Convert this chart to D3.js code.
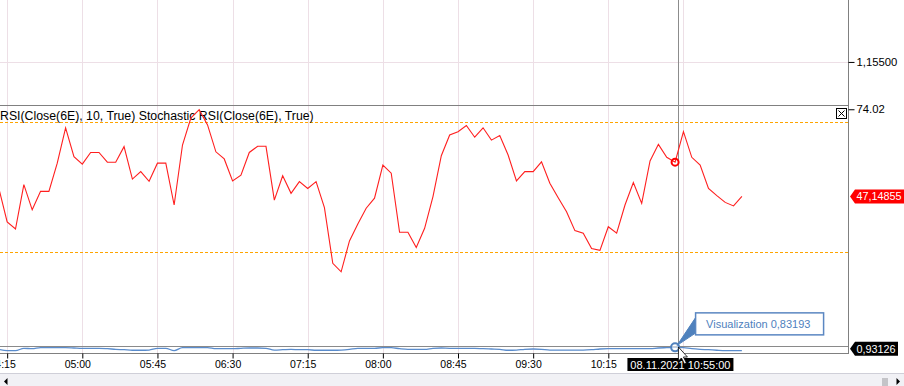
<!DOCTYPE html>
<html>
<head>
<meta charset="utf-8">
<script src="https://cdn.jsdelivr.net/npm/d3@7"></script>
<style>
  body { margin: 0; background: #fff; }
  svg { display: block; font-family: "Liberation Sans", Arial, sans-serif; }
</style>
</head>
<body>
<div id="plot"></div>
<script>
// bars are 5 minutes apart, first one at 04:10
const firstBar = "2021-11-08 04:10";
const barMinutes = 5;

// Stochastic RSI values, one per bar
const rsiValues = [
  49.7, 39.3, 37.1, 50.8, 43.0, 48.7, 48.7, 57.4, 68.3, 59.4,
  57.1, 60.7, 60.7, 57.7, 57.7, 62.5, 52.5, 54.8, 51.8, 57.4,
  57.4, 44.5, 63.0, 71.3, 73.9, 69.2, 60.9, 58.7, 51.9, 53.7,
  60.7, 62.6, 62.6, 46.0, 53.5, 48.1, 51.7, 49.6, 51.7, 43.7,
  26.5, 23.9, 33.4, 38.6, 43.5, 46.6, 56.8, 54.3, 36.1, 36.1,
  31.4, 37.3, 47.1, 59.7, 66.1, 67.1, 69.0, 65.4, 68.3, 64.5,
  65.9, 59.9, 51.9, 54.8, 54.8, 57.8, 51.2, 46.7, 42.4, 36.6,
  35.8, 31.1, 30.5, 37.8, 35.8, 44.5, 51.4, 45.0, 58.1, 63.2,
  59.2, 57.7, 67.1, 59.2, 56.8, 49.6, 47.4, 45.3, 44.2, 47.14855
];

// "Visualization" series in the bottom strip
const visValues = [
  0.74, 0.57, 0.57, 0.87, 0.82, 0.95, 0.95, 0.95, 0.95, 0.91,
  0.87, 0.87, 0.87, 0.82, 0.74, 0.69, 0.62, 0.62, 0.65, 0.87,
  0.87, 0.57, 0.95, 0.95, 0.95, 0.95, 0.82, 0.82, 0.82, 0.87,
  0.91, 0.91, 0.87, 0.65, 0.69, 0.74, 0.69, 0.69, 0.62, 0.62,
  0.62, 0.65, 0.74, 0.87, 0.87, 0.87, 0.95, 0.95, 0.82, 0.74,
  0.74, 0.74, 0.87, 0.91, 0.87, 0.87, 0.87, 0.87, 0.82, 0.78,
  0.74, 0.62, 0.65, 0.74, 0.78, 0.74, 0.65, 0.65, 0.65, 0.65,
  0.65, 0.69, 0.78, 0.82, 0.82, 0.82, 0.82, 0.82, 0.82, 0.91,
  0.95, 0.99, 0.95, 0.82, 0.74, 0.69, 0.62, 0.57, 0.57, 0.57
];

// axis ticks
const timeTicks = ["04:15", "05:00", "05:45", "06:30", "07:15", "08:00", "08:45", "09:30", "10:15"];
const gridTimes = ["04:15", "05:00", "05:45", "06:30", "07:15", "08:00", "08:45", "09:30", "10:15", "11:00"];
const priceTicks = [1.155];
const rsiTicks = [74.02];
const rsiLevels = [70, 30];

// cursor / labels
const legendText = "RSI(Close(6E), 10, True) Stochastic RSI(Close(6E), True)";
const cursorBar = "2021-11-08 10:55";
const mouseTime = "2021-11-08 10:57";
const cursorLabel = "08.11.2021 10:55:00";
const calloutText = "Visualization 0,83193";
const lastRsi = 47.14855;
const lastVis = 0.93126;

const svgWidth = 904;
const svgHeight = 386;
const plotRight = 848;
const axisY = 353;

const parse = d3.timeParse("%Y-%m-%d %H:%M");
const day = "2021-11-08 ";
const t0 = parse(firstBar);
const barTime = i => d3.timeMinute.offset(t0, i * barMinutes);

const rsiData = rsiValues.map((v, i) => ({ t: barTime(i), v: v }));
const visData = visValues.map((v, i) => ({ t: barTime(i), v: v }));

const comma = d3.formatLocale({ decimal: ",", thousands: ".", grouping: [3], currency: ["", ""] });

// scales
const xScale = d3.scaleTime()
  .domain([parse(day + "05:00"), parse(day + "10:15")])
  .range([82.3, 608.3]);
const priceScale = d3.scaleLinear().domain([1.15459, 1.15559]).range([105, 0]);
const rsiScale = d3.scaleLinear().domain([30, 70]).range([252, 122.3]);
const visScale = d3.scaleLinear().domain([0.4, 1.1]).range([352, 346.5]);

const svg = d3.select("#plot")
  .append("svg")
  .attr("width", svgWidth)
  .attr("height", svgHeight);

svg.append("rect").attr("width", svgWidth).attr("height", svgHeight).attr("fill", "#fff");

svg.append("clipPath").attr("id", "plotclip")
  .append("rect").attr("x", 0).attr("y", 0).attr("width", plotRight).attr("height", axisY);

// grid
svg.selectAll(".vgrid")
  .data(gridTimes)
  .enter()
  .append("line")
  .attr("x1", d => Math.round(xScale(parse(day + d))) + 0.5)
  .attr("x2", d => Math.round(xScale(parse(day + d))) + 0.5)
  .attr("y1", 0)
  .attr("y2", axisY)
  .attr("stroke", "#eddfe6");

svg.selectAll(".hgrid")
  .data(priceTicks)
  .enter()
  .append("line")
  .attr("x1", 0)
  .attr("x2", plotRight)
  .attr("y1", d => Math.round(priceScale(d)) + 0.5)
  .attr("y2", d => Math.round(priceScale(d)) + 0.5)
  .attr("stroke", "#eddfe6");

// panel separators
svg.append("line")
  .attr("x1", 0).attr("x2", plotRight)
  .attr("y1", 105.5).attr("y2", 105.5)
  .attr("stroke", "#808080");

svg.append("line")
  .attr("x1", 0).attr("x2", plotRight)
  .attr("y1", 346.5).attr("y2", 346.5)
  .attr("stroke", "#8a8a8a");

// overbought / oversold levels
svg.selectAll(".level")
  .data(rsiLevels)
  .enter()
  .append("line")
  .attr("x1", 0)
  .attr("x2", plotRight)
  .attr("y1", d => Math.round(rsiScale(d)) + 0.5)
  .attr("y2", d => Math.round(rsiScale(d)) + 0.5)
  .attr("stroke", "#ffa500")
  .attr("stroke-dasharray", "3,2");

// legend
svg.append("text")
  .attr("x", 0)
  .attr("y", 120)
  .style("font-size", "12.3px")
  .attr("fill", "#000")
  .text(legendText);

// close box
const box = svg.append("g").attr("transform", "translate(836.5,108.5)");
box.append("rect").attr("width", 10).attr("height", 10).attr("fill", "#fff").attr("stroke", "#000");
box.append("path").attr("d", "M2,2L8,8M8,2L2,8").attr("stroke", "#000");

// crosshair
svg.append("line")
  .attr("x1", Math.round(xScale(parse(mouseTime))) + 0.5)
  .attr("x2", Math.round(xScale(parse(mouseTime))) + 0.5)
  .attr("y1", 0)
  .attr("y2", axisY)
  .attr("stroke", "#8c8c8c");

const plot = svg.append("g").attr("clip-path", "url(#plotclip)");

// RSI line
plot.append("path")
  .datum(rsiData)
  .attr("fill", "none")
  .attr("stroke", "#ff1f1f")
  .attr("stroke-width", 1.1)
  .attr("d", d3.line().x(d => xScale(d.t)).y(d => rsiScale(d.v)));

const cursorPoint = rsiData.find(d => +d.t === +parse(cursorBar));
plot.append("circle")
  .attr("cx", xScale(cursorPoint.t))
  .attr("cy", rsiScale(cursorPoint.v))
  .attr("r", 3.5)
  .attr("fill", "none")
  .attr("stroke", "#f00")
  .attr("stroke-width", 2);

// Visualization line
plot.append("path")
  .datum(visData)
  .attr("fill", "none")
  .attr("stroke", "#5a8ccc")
  .attr("stroke-width", 1.3)
  .attr("d", d3.line().curve(d3.curveMonotoneX).x(d => xScale(d.t)).y(d => visScale(d.v)));

const visPoint = visData.find(d => +d.t === +parse(cursorBar));
const vx = xScale(visPoint.t);
const vy = visScale(visPoint.v);

// callout
svg.append("path")
  .attr("d", `M${vx + 2},${vy - 2}L${vx + 20},${vy - 29}L${vx + 20},${vy - 14}Z`)
  .attr("fill", "#4f81bd")
  .attr("stroke", "#4f81bd");
svg.append("rect")
  .attr("x", vx + 20.5)
  .attr("y", vy - 34.5)
  .attr("width", 128)
  .attr("height", 22)
  .attr("fill", "#fff")
  .attr("stroke", "#5b87c2")
  .attr("stroke-width", 1.5);
svg.append("text")
  .attr("x", vx + 31)
  .attr("y", vy - 19.5)
  .style("font-size", "11px")
  .attr("fill", "#4f7fbd")
  .text(calloutText);

plot.append("circle")
  .attr("cx", vx)
  .attr("cy", vy)
  .attr("r", 4)
  .attr("fill", "#fff")
  .attr("fill-opacity", 0.6)
  .attr("stroke", "#4f81bd")
  .attr("stroke-width", 2);

// right border + bottom axis line
svg.append("line")
  .attr("x1", plotRight + 0.5).attr("x2", plotRight + 0.5)
  .attr("y1", 0).attr("y2", axisY)
  .attr("stroke", "#808080");
svg.append("line")
  .attr("x1", 0).attr("x2", plotRight + 1)
  .attr("y1", axisY + 0.5).attr("y2", axisY + 0.5)
  .attr("stroke", "#808080");

// right axes
const priceAxis = svg.append("g")
  .attr("transform", `translate(${plotRight + 0.5},0)`)
  .call(d3.axisRight(priceScale).tickValues(priceTicks).tickFormat(comma.format(".5f")).tickSize(6).tickPadding(2));
const rsiAxis = svg.append("g")
  .attr("transform", `translate(${plotRight + 0.5},0)`)
  .call(d3.axisRight(rsiScale).tickValues(rsiTicks).tickFormat(d3.format(".2f")).tickSize(6).tickPadding(2));
[priceAxis, rsiAxis].forEach(a => {
  a.select(".domain").remove();
  a.selectAll("text").style("font-size", "11.3px").attr("fill", "#000").attr("font-family", null);
  a.selectAll("line").attr("stroke", "#000");
});

// last value markers
function valueTag(y, text, fill, w) {
  const g = svg.append("g").attr("transform", `translate(${plotRight + 2},${y})`);
  g.append("path")
    .attr("d", `M0,0L5,-7L${w},-7L${w},7L5,7Z`)
    .attr("fill", fill);
  g.append("text")
    .attr("x", 6.5)
    .attr("y", 4)
    .style("font-size", "10.8px")
    .attr("fill", "#fff")
    .text(text);
  return g;
}
valueTag(rsiScale(lastRsi), comma.format(".5f")(lastRsi), "#f00", 56);
valueTag(visScale(lastVis) + 1, comma.format(".5f")(lastVis), "#000", 48);

// time axis
const timeAxis = svg.append("g")
  .attr("transform", `translate(0,${axisY + 0.5})`)
  .call(d3.axisBottom(xScale)
    .tickValues(timeTicks.map(d => parse(day + d)))
    .tickFormat(d3.timeFormat("%H:%M"))
    .tickSize(5)
    .tickPadding(2));
timeAxis.select(".domain").remove();
timeAxis.selectAll("line").attr("stroke", "#000");
timeAxis.selectAll("text")
  .style("font-size", "10.5px")
  .attr("fill", "#000")
  .attr("font-family", null)
  .attr("dx", "-5");

// cursor time label
const cx = xScale(parse(mouseTime));
svg.append("rect")
  .attr("x", cx - 51)
  .attr("y", 358)
  .attr("width", 106)
  .attr("height", 13)
  .attr("fill", "#000");
svg.append("text")
  .attr("x", cx + 2)
  .attr("y", 368.5)
  .attr("text-anchor", "middle")
  .style("font-size", "11px")
  .attr("fill", "#fff")
  .text(cursorLabel);

// mouse pointer
svg.append("path")
  .attr("d", `M${cx},${axisY - 6}l0,14l3,-3l3,6l2,-1l-3,-6l4,0Z`)
  .attr("fill", "#fff")
  .attr("stroke", "#000")
  .attr("stroke-width", 0.8);

// scrollbar
svg.append("rect")
  .attr("x", 0).attr("y", 373)
  .attr("width", svgWidth).attr("height", 13)
  .attr("fill", "#f1f1f5");
svg.append("line")
  .attr("x1", 0).attr("x2", svgWidth)
  .attr("y1", 373.5).attr("y2", 373.5)
  .attr("stroke", "#cfcfd8");
svg.append("path").attr("d", "M4,381.5L7.5,378L7.5,385Z").attr("fill", "#000");
svg.append("path").attr("d", "M896.5,378L900,381.5L896.5,385Z").attr("fill", "#000");
svg.append("rect").attr("x", 882).attr("y", 378).attr("width", 6).attr("height", 8).attr("fill", "#c4c4c8");
</script>
</body>
</html>
